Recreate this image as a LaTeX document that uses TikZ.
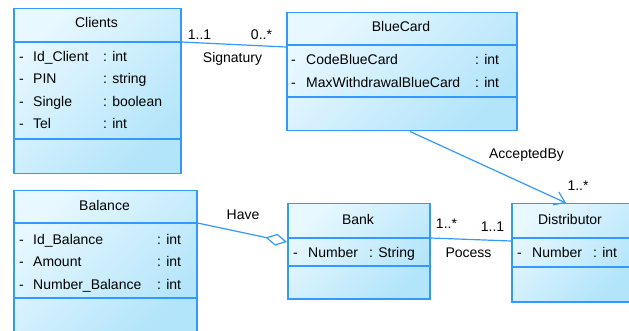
\documentclass[tikz,border=0pt]{standalone}
\usepackage{fontspec}
\setmainfont{Liberation Sans}
\usetikzlibrary{arrows.meta}
\definecolor{umlblue}{RGB}{51,153,255}
\definecolor{filllight}{RGB}{232,248,255}
\definecolor{filldark}{RGB}{178,228,250}
\begin{document}
\begin{tikzpicture}[x=1pt,y=-1pt,
  cls/.style={draw=umlblue, line width=1.5pt, rectangle, inner sep=0pt, anchor=north west,
    top color=filllight, bottom color=filldark, shading angle=45},
  sepline/.style={draw=umlblue, line width=1.3pt},
  txt/.style={inner sep=0pt, font=\fontsize{14}{16}\selectfont, text=black},
  lft/.style={txt, anchor=base west},
  ctr/.style={txt, anchor=base},
  conn/.style={draw=umlblue, line width=1.2pt}
]
\useasboundingbox (0,0) rectangle (629,331);
\fill[white] (0,0) rectangle (629,331);

% ---------- Clients ----------
\node[cls, minimum width=167pt, minimum height=165pt] (clients) at (13,8) {};
\draw[sepline] ([yshift=-34pt]clients.north west) -- ([yshift=-34pt]clients.north east);
\draw[sepline] ([yshift=-131pt]clients.north west) -- ([yshift=-131pt]clients.north east);
\node[ctr] (clientsT) at (96.5,28) {Clients};
\node[lft] (cd1) at (19,61.5) {-};
\node[lft] (cn1) at (33,61.5) {Id\_Client};
\node[lft] (ct1) at (103,61.5) {: int};
\node[lft] (cd2) at (19,84) {-};
\node[lft] (cn2) at (33,84) {PIN};
\node[lft] (ct2) at (103,84) {: string};
\node[lft] (cd3) at (19,106.5) {-};
\node[lft] (cn3) at (33,106.5) {Single};
\node[lft] (ct3) at (103,106.5) {: boolean};
\node[lft] (cd4) at (19,129) {-};
\node[lft] (cn4) at (33,129) {Tel};
\node[lft] (ct4) at (103,129) {: int};

% ---------- BlueCard ----------
\node[cls, minimum width=230pt, minimum height=118pt] (bluecard) at (286,12) {};
\draw[sepline] ([yshift=-33pt]bluecard.north west) -- ([yshift=-33pt]bluecard.north east);
\draw[sepline] ([yshift=-85pt]bluecard.north west) -- ([yshift=-85pt]bluecard.north east);
\node[ctr] (bluecardT) at (401,32) {BlueCard};
\node[lft] (bd1) at (291,65) {-};
\node[lft] (bn1) at (306,65) {CodeBlueCard};
\node[lft] (bt1) at (475,65) {: int};
\node[lft] (bd2) at (291,88) {-};
\node[lft] (bn2) at (306,88) {MaxWithdrawalBlueCard};
\node[lft] (bt2) at (475,88) {: int};

% ---------- Balance ----------
\node[cls, minimum width=183pt, minimum height=143pt] (balance) at (13,190) {};
\draw[sepline] ([yshift=-33pt]balance.north west) -- ([yshift=-33pt]balance.north east);
\draw[sepline] ([yshift=-108pt]balance.north west) -- ([yshift=-108pt]balance.north east);
\node[ctr] (balanceT) at (104.5,211) {Balance};
\node[lft] (ld1) at (19,244) {-};
\node[lft] (ln1) at (33,244) {Id\_Balance};
\node[lft] (lt1) at (157,244) {: int};
\node[lft] (ld2) at (19,266.5) {-};
\node[lft] (ln2) at (33,266.5) {Amount};
\node[lft] (lt2) at (157,266.5) {: int};
\node[lft] (ld3) at (19,289) {-};
\node[lft] (ln3) at (33,289) {Number\_Balance};
\node[lft] (lt3) at (157,289) {: int};

% ---------- Bank ----------
\node[cls, minimum width=142pt, minimum height=95pt] (bank) at (287,203) {};
\draw[sepline] ([yshift=-35pt]bank.north west) -- ([yshift=-35pt]bank.north east);
\draw[sepline] ([yshift=-63pt]bank.north west) -- ([yshift=-63pt]bank.north east);
\node[ctr] (bankT) at (358,225) {Bank};
\node[lft] (kd1) at (293,258) {-};
\node[lft] (kn1) at (308,258) {Number};
\node[lft] (kt1) at (369,258) {: String};

% ---------- Distributor ----------
\node[cls, minimum width=118pt, minimum height=98pt] (distributor) at (511,203) {};
\draw[sepline] ([yshift=-35pt]distributor.north west) -- ([yshift=-35pt]distributor.north east);
\draw[sepline] ([yshift=-64pt]distributor.north west) -- ([yshift=-64pt]distributor.north east);
\node[ctr] (distributorT) at (570,225) {Distributor};
\node[lft] (dd1) at (517,258) {-};
\node[lft] (dn1) at (532,258) {Number};
\node[lft] (dt1) at (593,258) {: int};

% ---------- Connectors ----------
\draw[conn] ([yshift=-34pt]clients.north east) -- ([yshift=-35pt]bluecard.north west);
\node[ctr] (sigA) at (199.5,40) {1..1};
\node[ctr] (sigB) at (261.5,40) {0..*};
\node[ctr] (sigL) at (232.5,63) {Signatury};

\draw[conn, -{Diamond[open, length=22pt, width=12pt, line width=1.2pt]}]
  ([yshift=-33pt]balance.north east) -- ([yshift=-39pt]bank.north west);
\node[ctr] (haveL) at (243,220) {Have};

\draw[conn] ([yshift=-35pt]bank.north east) -- ([yshift=-38pt]distributor.north west);
\node[ctr] (posA) at (446.5,229) {1..*};
\node[ctr] (posB) at (492.5,232) {1..1};
\node[ctr] (posL) at (468.5,257) {Pocess};

\draw[conn, -{Straight Barb[length=10pt, width=14pt, line width=1.2pt]}]
  ([xshift=124pt]bluecard.south west) -- ([xshift=55pt]distributor.north west);
\node[ctr] (accL) at (526.5,159) {AcceptedBy};
\node[ctr] (accM) at (578,191) {1..*};
\end{tikzpicture}
\end{document}
